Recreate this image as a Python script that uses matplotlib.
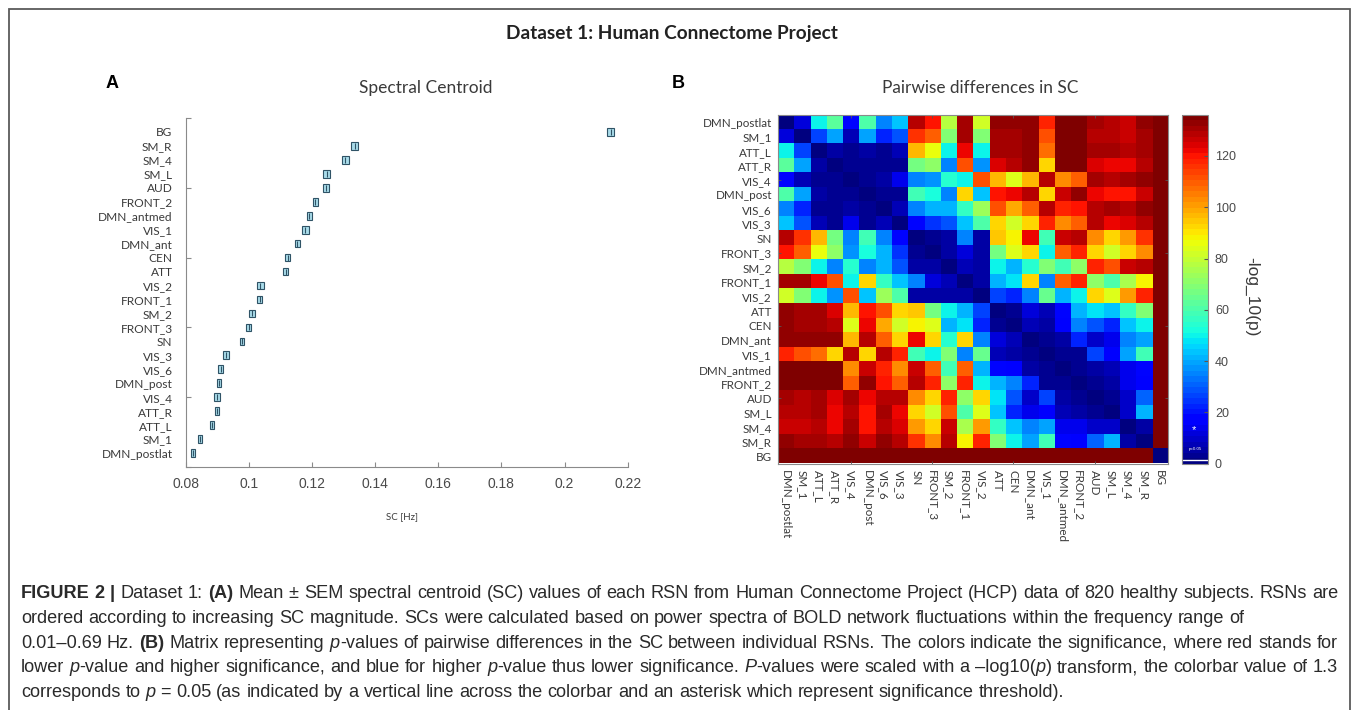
import numpy as np
import matplotlib
matplotlib.use('Agg')
import matplotlib.pyplot as plt
from matplotlib.patches import Rectangle

# ---------------- data ----------------
rsn_names = ['DMN_postlat', 'SM_1', 'ATT_L', 'ATT_R', 'VIS_4', 'DMN_post', 'VIS_6',
             'VIS_3', 'SN', 'FRONT_3', 'SM_2', 'FRONT_1', 'VIS_2', 'ATT', 'CEN',
             'DMN_ant', 'VIS_1', 'DMN_antmed', 'FRONT_2', 'AUD', 'SM_L', 'SM_4',
             'SM_R', 'BG']

sc_mean = [0.0824, 0.0846, 0.0883, 0.0899, 0.0900, 0.0904, 0.0911, 0.0927,
           0.0979, 0.1000, 0.1010, 0.1034, 0.1036, 0.1117, 0.1124, 0.1153,
           0.1179, 0.1192, 0.1211, 0.1245, 0.1247, 0.1306, 0.1335, 0.2146]
sc_sem = [0.00063, 0.00063, 0.00063, 0.00063, 0.00095, 0.00063, 0.00079, 0.00095,
          0.00063, 0.00079, 0.0011, 0.00079, 0.0011, 0.00079, 0.00079, 0.00079,
          0.0011, 0.00079, 0.00079, 0.00095, 0.0011, 0.0011, 0.0011, 0.0011]

sc_xticks = [0.08, 0.10, 0.12, 0.14, 0.16, 0.18, 0.20, 0.22]
sc_xticklabels = ['0.08', '0.1', '0.12', '0.14', '0.16', '0.18', '0.2', '0.22']

# -log10(p), upper triangle, row i holds columns i+1 .. 23
logp_upper = [
    [12, 50, 62, 18, 60, 36, 44, 128, 120, 78, 131, 82, 132, 132, 133, 118, 134, 134, 130, 128, 127, 133, 135],
    [26, 40, 8, 40, 22, 28, 116, 109, 70, 131, 70, 131, 131, 133, 111, 134, 134, 129, 128, 127, 131, 135],
    [6, 3, 6, 3, 8, 97, 87, 50, 122, 50, 131, 131, 133, 108, 134, 134, 130, 130, 128, 130, 135],
    [3, 3, 3, 4, 66, 72, 36, 112, 37, 124, 128, 133, 92, 134, 134, 124, 122, 122, 128, 135],
    [3, 5, 14, 34, 38, 55, 50, 112, 96, 84, 96, 128, 102, 110, 130, 128, 130, 133, 135],
    [3, 3, 58, 52, 34, 93, 44, 119, 122, 128, 93, 127, 132, 123, 120, 121, 127, 135],
    [7, 34, 42, 42, 57, 74, 112, 99, 110, 128, 118, 121, 129, 130, 128, 132, 135],
    [18, 24, 28, 44, 60, 92, 81, 92, 118, 102, 110, 128, 122, 124, 128, 135],
    [4, 6, 34, 6, 94, 88, 122, 58, 127, 129, 102, 93, 100, 116, 135],
    [6, 12, 5, 66, 84, 92, 50, 110, 118, 92, 82, 92, 104, 135],
    [8, 5, 50, 42, 55, 68, 58, 72, 118, 112, 127, 128, 135],
    [6, 42, 48, 92, 34, 110, 118, 72, 60, 76, 88, 135],
    [26, 22, 34, 64, 41, 50, 92, 84, 101, 118, 135],
    [3, 12, 7, 18, 42, 48, 44, 56, 68, 135],
    [8, 6, 16, 36, 28, 22, 44, 50, 135],
    [3, 6, 22, 10, 14, 34, 40, 135],
    [3, 3, 26, 16, 40, 58, 135],
    [4, 6, 8, 14, 18, 135],
    [4, 5, 14, 16, 135],
    [3, 10, 30, 135],
    [10, 42, 135],
    [6, 135],
    [135],
]
cbar_ticks = [0, 20, 40, 60, 80, 100, 120]
p_threshold = 1.3

caption_lines = [
    [('FIGURE 2 |', 'b'), (' Dataset 1: ', 'n'), ('(A)', 'b'),
     (' Mean \u00b1 SEM spectral centroid (SC) values of each RSN from Human Connectome Project (HCP) data of 820 healthy subjects. RSNs are', 'n')],
    [('ordered according to increasing SC magnitude. SCs were calculated based on power spectra of BOLD network fluctuations within the frequency range of', 'n')],
    [('0.01\u20130.69 Hz. ', 'n'), ('(B)', 'b'), (' Matrix representing ', 'n'), ('p', 'i'),
     ('-values of pairwise differences in the SC between individual RSNs. The colors indicate the significance, where red stands for', 'n')],
    [('lower ', 'n'), ('p', 'i'), ('-value and higher significance, and blue for higher ', 'n'), ('p', 'i'),
     ('-value thus lower significance. ', 'n'), ('P', 'i'), ('-values were scaled with a \u2013log10(', 'n'), ('p', 'i'),
     (') transform, the colorbar value of 1.3', 'n')],
    [('corresponds to ', 'n'), ('p', 'i'),
     (' = 0.05 (as indicated by a vertical line across the colorbar and an asterisk which represent significance threshold).', 'n')],
]
caption_justify = [True, False, True, True, False]

# ---------------- figure ----------------
W, H = 1358, 710
fig = plt.figure(figsize=(W / 100, H / 100), dpi=100)


def fx(px):
    return px / W


def fy(py):
    return 1 - py / H


LABEL_FONT = ['Lato', 'DejaVu Sans']
NUM_FONT = ['Liberation Sans', 'DejaVu Sans']
TXT = '#3a3a3a'
AX = '#8a8a8a'

# frame
fig.patches.append(Rectangle((fx(8.5), -0.02), fx(1350) - fx(8.5), 1.02 - 8.5 / H,
                             transform=fig.transFigure, fill=False,
                             edgecolor='#5a5a5a', linewidth=1.3))

fig.text(fx(672), fy(34), 'Dataset 1: Human Connectome Project', ha='center', va='center',
         family=LABEL_FONT, weight='bold', fontsize=13.7, color='#222222')
fig.text(fx(112), fy(83), 'A', ha='center', va='center', family=NUM_FONT,
         weight='bold', fontsize=13, color='black')
fig.text(fx(678), fy(83), 'B', ha='center', va='center', family=NUM_FONT,
         weight='bold', fontsize=13, color='black')

# ---------------- panel A ----------------
axA = fig.add_axes([fx(185.7), fy(467), fx(627.7) - fx(185.7), (467 - 118) / H])
ypos = np.arange(1, len(rsn_names) + 1)
mean = np.array(sc_mean)
sem = np.array(sc_sem)
axA.barh(ypos, 2 * sem, left=mean - sem, height=0.55, color='#a9dcea',
         edgecolor='#2f5366', linewidth=0.8, zorder=3)
axA.scatter(mean, ypos, marker='|', s=22, color='#2f5366', linewidths=0.8, zorder=4)
axA.set_xlim(0.08, 0.22)
axA.set_ylim(0, 25)
for s in ['top', 'right']:
    axA.spines[s].set_visible(False)
for s in ['left', 'bottom']:
    axA.spines[s].set_color(AX)
    axA.spines[s].set_linewidth(0.8)
axA.yaxis.remove_overlapping_locs = False
axA.set_xticks(sc_xticks, labels=sc_xticklabels)
axA.set_yticks([0, 5, 10, 15, 20, 25], labels=[])
axA.set_yticks(ypos, labels=rsn_names, minor=True)
axA.tick_params(axis='x', direction='in', length=3.5, color=AX, labelsize=10,
                labelcolor='#4a4a4a', pad=7)
for lab in axA.get_xticklabels():
    lab.set_family(NUM_FONT)
axA.tick_params(axis='y', which='major', direction='in', length=3.5, color=AX)
axA.tick_params(axis='y', which='minor', length=0, labelsize=8.6, labelcolor=TXT, pad=9.5)
for lab in axA.get_yticklabels(minor=True):
    lab.set_family(LABEL_FONT)
fig.text(fx(426), fy(88), 'Spectral Centroid', ha='center', va='center',
         family=LABEL_FONT, fontsize=12.5, color=TXT)
fig.text(fx(402), fy(517), 'SC [Hz]', ha='center', va='center',
         family=LABEL_FONT, fontsize=7, color=TXT)

# ---------------- panel B ----------------
n = len(rsn_names)
M = np.zeros((n, n))
for i, row in enumerate(logp_upper):
    M[i, i + 1:] = row
M = M + M.T

cmap = plt.get_cmap('jet', 64)
axB = fig.add_axes([fx(777.5), fy(463.5), (1168 - 777.5) / W, (463.5 - 115) / H])
im = axB.imshow(M, cmap=cmap, vmin=0, vmax=136, aspect='auto', interpolation='nearest')
axB.xaxis.remove_overlapping_locs = False
axB.yaxis.remove_overlapping_locs = False
axB.set_xticks(range(n), labels=rsn_names)
axB.set_yticks(range(n), labels=rsn_names)
axB.set_xticks([4, 9, 14, 19], minor=True)
axB.set_yticks([4, 9, 14, 19], minor=True)
axB.tick_params(which='major', length=0, labelsize=8.4, labelcolor=TXT)
axB.tick_params(axis='x', which='major', pad=4.5, labelrotation=270)
axB.tick_params(axis='y', which='major', pad=4)
axB.tick_params(which='minor', direction='in', length=2.5, color='#555555',
                top=True, right=True, bottom=True, left=True)
for lab in axB.get_xticklabels() + axB.get_yticklabels():
    lab.set_family(LABEL_FONT)
for lab in axB.get_xticklabels():
    lab.set_va('top')
    lab.set_ha('center')
for s in axB.spines.values():
    s.set_color(AX)
    s.set_linewidth(0.8)
fig.text(fx(980), fy(88), 'Pairwise differences in SC', ha='center', va='center',
         family=LABEL_FONT, fontsize=12.4, color=TXT)

cax = fig.add_axes([fx(1182), fy(463.5), 26 / W, (463.5 - 115) / H])
cb = fig.colorbar(im, cax=cax)
cb.set_ticks(cbar_ticks)
cb.ax.tick_params(direction='in', length=3, color='#555555', labelsize=9,
                  labelcolor='#4a4a4a', pad=5)
for lab in cb.ax.get_yticklabels():
    lab.set_family(NUM_FONT)
cb.outline.set_edgecolor(AX)
cb.outline.set_linewidth(0.8)
cax.axhline(p_threshold, color='white', linewidth=1.0)
cax.text(0.45, 13, '*', color='white', ha='center', va='center',
         fontsize=8, family=NUM_FONT, transform=cax.get_yaxis_transform())
cax.text(0.5, 5.5, 'p=0.05', color='white', ha='center', va='center',
         fontsize=3.2, family=NUM_FONT, transform=cax.get_yaxis_transform())
fig.text(fx(1252), fy(297), '-log_10(p)', rotation=270, ha='center', va='center',
         family=NUM_FONT, fontsize=12.5, color=TXT)

# ---------------- caption ----------------
renderer = fig.canvas.get_renderer()
CAP_FONT = ['Liberation Sans', 'DejaVu Sans']
CAP_COLOR = '#2a2a2a'


def style_kw(st):
    return dict(weight='bold' if st == 'b' else 'normal',
                style='italic' if st == 'i' else 'normal')


def measure(s, st, size):
    t = fig.text(0, 0, s, fontsize=size, family=CAP_FONT, **style_kw(st))
    w = t.get_window_extent(renderer).width
    t.remove()
    return w


def split_words(line):
    words, cur = [], []
    for text, st in line:
        buf = ''
        for ch in text:
            if ch == ' ':
                if buf:
                    cur.append((buf, st))
                    buf = ''
                if cur:
                    words.append(cur)
                    cur = []
            else:
                buf += ch
        if buf:
            cur.append((buf, st))
    if cur:
        words.append(cur)
    return words


def line_widths(words, size):
    return [sum(measure(c, st, size) for c, st in w) for w in words]


def space_w(size):
    return measure('a a', 'n', size) - measure('aa', 'n', size)


x0, x1 = 21.0, 1338.0
# font size chosen so the (unjustified) second line ends where it does in the source
ref_size = 10.0
w2 = split_words(caption_lines[1])
nat = sum(line_widths(w2, ref_size)) + space_w(ref_size) * (len(w2) - 1)
cap_size = ref_size * (1253 - x0) / nat

baselines = [598, 623, 648, 672.5, 697]
for line, just, yb in zip(caption_lines, caption_justify, baselines):
    words = split_words(line)
    widths = line_widths(words, cap_size)
    if just and len(words) > 1:
        gap = (x1 - x0 - sum(widths)) / (len(words) - 1)
    else:
        gap = space_w(cap_size)
    x = x0
    for w, ww in zip(words, widths):
        xc = x
        for c, st in w:
            fig.text(fx(xc), fy(yb), c, fontsize=cap_size, family=CAP_FONT,
                     color=CAP_COLOR, ha='left', va='baseline', **style_kw(st))
            xc += measure(c, st, cap_size)
        x += ww + gap

fig.savefig('out.png', dpi=100)
